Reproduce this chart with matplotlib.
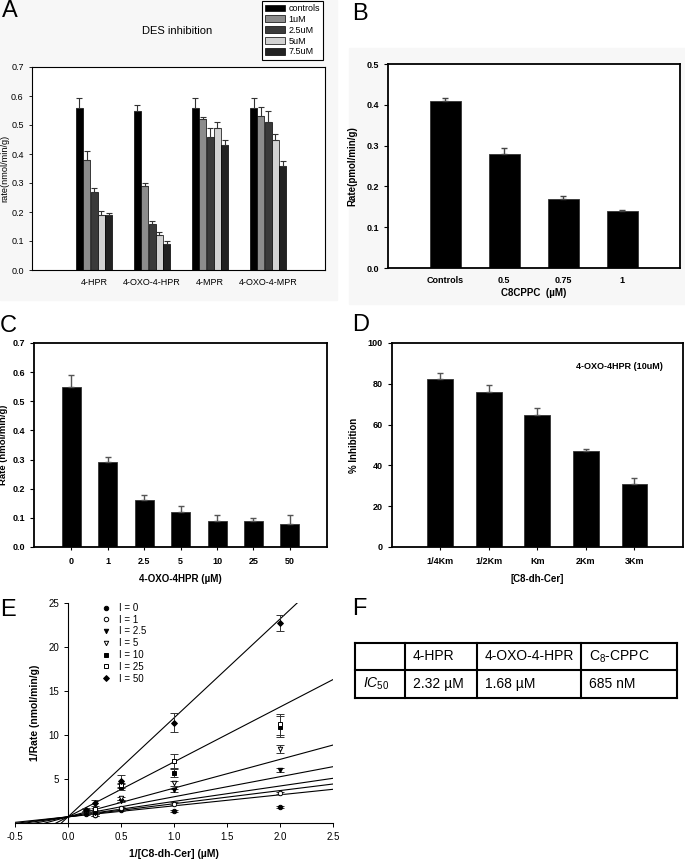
import matplotlib
matplotlib.use('Agg')
import matplotlib.pyplot as plt
import numpy as np
from matplotlib.patches import Rectangle

plt.rcParams['font.family'] = ['Liberation Sans', 'DejaVu Sans']
plt.rcParams['mathtext.fontset'] = 'custom'
plt.rcParams['mathtext.rm'] = 'Liberation Sans'
plt.rcParams['mathtext.it'] = 'Liberation Sans:italic'

# ---------------- data ----------------
# Panel A
a_groups = ['4-HPR', '4-OXO-4-HPR', '4-MPR', '4-OXO-4-MPR']
a_series = ['controls', '1uM', '2.5uM', '5uM', '7.5uM']
a_controls = [0.56, 0.55, 0.56, 0.56]
a_1uM = [0.38, 0.29, 0.52, 0.53]
a_2_5uM = [0.27, 0.16, 0.46, 0.51]
a_5uM = [0.19, 0.12, 0.49, 0.45]
a_7_5uM = [0.19, 0.09, 0.43, 0.36]
a_err_controls = [0.032, 0.02, 0.032, 0.032]
a_err_1uM = [0.032, 0.01, 0.007, 0.032]
a_err_2_5uM = [0.012, 0.01, 0.03, 0.04]
a_err_5uM = [0.015, 0.01, 0.02, 0.02]
a_err_7_5uM = [0.005, 0.01, 0.02, 0.016]

# Panel B
b_labels = ['Controls', '0.5', '0.75', '1']
b_values = [0.41, 0.28, 0.17, 0.14]
b_err = [0.006, 0.013, 0.006, 0.002]

# Panel C
c_labels = ['0', '1', '2.5', '5', '10', '25', '50']
c_values = [0.55, 0.29, 0.16, 0.12, 0.09, 0.09, 0.08]
c_err = [0.04, 0.02, 0.02, 0.02, 0.02, 0.01, 0.03]

# Panel D
d_labels = ['1/4Km', '1/2Km', 'Km', '2Km', '3Km']
d_values = [82.5, 76.0, 64.5, 47.0, 31.0]
d_err = [3.0, 3.5, 3.5, 1.0, 3.0]

# Panel E (Lineweaver-Burk)
e_x = [0.167, 0.25, 0.5, 1.0, 2.0]
e_I0 = [1.0, 0.9, 1.5, 1.36, 1.86]
e_I1 = [1.1, 0.95, 1.7, 2.2, 3.4]
e_I2_5 = [1.15, 1.1, 2.5, 3.7, 6.0]
e_I5 = [1.2, 1.2, 2.8, 4.5, 8.4]
e_I10 = [1.3, 1.3, 4.1, 5.7, 10.95]
e_I25 = [1.4, 1.6, 4.3, 7.0, 11.2]
e_I50 = [1.5, 2.3, 4.8, 11.4, 22.7]
e_err_I0 = [0.1, 0.1, 0.1, 0.1, 0.1]
e_err_I1 = [0.1, 0.1, 0.1, 0.15, 0.15]
e_err_I2_5 = [0.1, 0.1, 0.15, 0.2, 0.2]
e_err_I5 = [0.1, 0.1, 0.2, 0.25, 0.5]
e_err_I10 = [0.1, 0.1, 0.3, 0.45, 1.2]
e_err_I25 = [0.15, 0.1, 0.3, 0.8, 1.2]
e_err_I50 = [0.15, 0.35, 0.7, 1.1, 0.9]
e_fit_intercept = 0.7
e_fit_at_2_5 = [3.83, 4.43, 5.08, 6.4, 8.86, 16.3, 28.8]   # I = 0,1,2.5,5,10,25,50

# Panel F table
f_header = ['', '4-HPR', '4-OXO-4-HPR', r'C$_8$-CPPC']
f_row = [r'$\mathit{IC_{50}}$', '2.32 \u00b5M', '1.68 \u00b5M', '685 nM']

# ---------------- figure ----------------
W, H = 685, 861
fig = plt.figure(figsize=(W / 100, H / 100), dpi=100)

def fa(l, t, r, b):
    return [l / W, 1 - b / H, (r - l) / W, (b - t) / H]

# faint backgrounds for A and B
fig.patches.append(Rectangle((0, 1 - 300 / H), 337 / W, 300 / H, transform=fig.transFigure,
                             color='#f7f7f7', zorder=-5))
fig.patches.append(Rectangle((349 / W, 1 - 304 / H), (W - 349) / W, (304 - 48) / H,
                             transform=fig.transFigure, color='#f7f7f7', zorder=-5))

letter_kw = dict(fontsize=17, ha='left', va='top')
fig.text(2 / W, 1 - 0 / H, 'A', **letter_kw)
fig.text(352 / W, 1 - 3 / H, 'B', **letter_kw)
fig.text(0 / W, 1 - 315 / H, 'C', **letter_kw)
fig.text(352 / W, 1 - 314 / H, 'D', **letter_kw)
fig.text(0 / W, 1 - 599 / H, 'E', **letter_kw)
fig.text(352 / W, 1 - 598 / H, 'F', **letter_kw)

# ---------------- Panel A ----------------
axA = fig.add_axes(fa(32, 67, 325, 270))
axA.set_facecolor('white')
a_vals = [a_controls, a_1uM, a_2_5uM, a_5uM, a_7_5uM]
a_errs = [a_err_controls, a_err_1uM, a_err_2_5uM, a_err_5uM, a_err_7_5uM]
a_colors = ['#000000', '#8c8c8c', '#3a3a3a', '#d2d2d2', '#222222']
xg = np.arange(len(a_groups))
bw = 0.118
handles = []
for i, (v, e, c, name) in enumerate(zip(a_vals, a_errs, a_colors, a_series)):
    pos = xg + (i - 2) * 0.126
    h = axA.bar(pos, v, width=bw, color=c, edgecolor='black', linewidth=0.5, label=name, zorder=2)
    axA.errorbar(pos, v, yerr=[np.zeros(len(e)), e], fmt='none', ecolor='#333333',
                 elinewidth=0.8, capsize=2, capthick=0.8, zorder=3)
    handles.append(h)
axA.set_xlim(-1.07, 3.98)
axA.set_ylim(0, 0.7)
axA.set_yticks(np.arange(0, 0.71, 0.1))
axA.set_yticklabels(['%.1f' % t for t in np.arange(0, 0.71, 0.1)])
axA.set_xticks(xg)
axA.set_xticklabels(a_groups)
axA.tick_params(axis='both', labelsize=6.5, direction='out', length=2.5, width=0.6)
axA.tick_params(axis='x', length=0, pad=6)
axA.set_ylabel('rate(nmol/min/g)', fontsize=6.6)
axA.yaxis.set_label_coords(-0.078, 0.5)
for s in axA.spines.values():
    s.set_linewidth(0.8)
fig.text(177 / W, 1 - 31 / H, 'DES inhibition', fontsize=8, ha='center', va='center')
leg = fig.legend(handles=handles, loc='upper left', bbox_to_anchor=(262 / W, 1 - 1 / H),
                 fontsize=6.5, frameon=True, fancybox=False, edgecolor='black',
                 framealpha=1, handlelength=2.2, handleheight=0.8, handletextpad=0.4,
                 labelspacing=0.2, borderpad=0.35, borderaxespad=0)
leg.get_frame().set_linewidth(0.8)

# ---------------- Panel B ----------------
axB = fig.add_axes(fa(388, 64, 680, 268))
xb = np.arange(len(b_labels))
axB.bar(xb, b_values, width=0.53, color='black', edgecolor='#333333', linewidth=0.6, zorder=2)
axB.errorbar(xb, b_values, yerr=[np.zeros(len(b_err)), b_err], fmt='none', ecolor='#444444',
             elinewidth=1, capsize=2.5, capthick=1, zorder=3)
axB.set_xlim(-0.97, 3.98)
axB.set_ylim(0, 0.5)
axB.set_yticks(np.arange(0, 0.51, 0.1))
axB.set_yticklabels(['%.1f' % t for t in np.arange(0, 0.51, 0.1)])
axB.set_xticks(xb)
axB.set_xticklabels(b_labels)
axB.tick_params(axis='both', labelsize=6.5, direction='out', length=3, width=0.8)
axB.tick_params(axis='x', length=0, pad=6)
for lab in axB.get_xticklabels() + axB.get_yticklabels():
    lab.set_fontweight('bold')
axB.set_ylabel('Rate(pmol/min/g)', fontsize=7, fontweight='bold')
axB.yaxis.set_label_coords(-0.105, 0.5)
axB.set_xlabel('C8CPPC  (\u00b5M)', fontsize=7, fontweight='bold', labelpad=2)
for s in axB.spines.values():
    s.set_linewidth(1.3)

# ---------------- Panel C ----------------
axC = fig.add_axes(fa(34, 343, 327, 547))
xc = np.arange(len(c_labels))
axC.bar(xc, c_values, width=0.52, color='black', edgecolor='#333333', linewidth=0.6, zorder=2)
axC.errorbar(xc, c_values, yerr=[np.zeros(len(c_err)), c_err], fmt='none', ecolor='#555555',
             elinewidth=1, capsize=2.5, capthick=1, zorder=3)
axC.set_xlim(-1.03, 7.02)
axC.set_ylim(0, 0.7)
axC.set_yticks(np.arange(0, 0.71, 0.1))
axC.set_yticklabels(['%.1f' % t for t in np.arange(0, 0.71, 0.1)])
axC.set_xticks(xc)
axC.set_xticklabels(c_labels)
axC.tick_params(axis='both', labelsize=6.5, direction='out', length=3, width=0.8)
axC.tick_params(axis='x', length=2, pad=5)
for lab in axC.get_xticklabels() + axC.get_yticklabels():
    lab.set_fontweight('bold')
axC.set_ylabel('Rate (nmol/min/g)', fontsize=6.8, fontweight='bold')
axC.yaxis.set_label_coords(-0.088, 0.5)
axC.set_xlabel('4-OXO-4HPR (\u00b5M)', fontsize=7, fontweight='bold', labelpad=6)
for s in axC.spines.values():
    s.set_linewidth(1.3)

# ---------------- Panel D ----------------
axD = fig.add_axes(fa(392, 343, 683, 547))
xd = np.arange(len(d_labels))
axD.bar(xd, d_values, width=0.53, color='black', edgecolor='#333333', linewidth=0.6, zorder=2)
axD.errorbar(xd, d_values, yerr=[np.zeros(len(d_err)), d_err], fmt='none', ecolor='#555555',
             elinewidth=1, capsize=2.5, capthick=1, zorder=3)
axD.set_xlim(-0.99, 5.0)
axD.set_ylim(0, 100)
axD.set_yticks(np.arange(0, 101, 20))
axD.set_xticks(xd)
axD.set_xticklabels(d_labels)
axD.tick_params(axis='both', labelsize=6.5, direction='out', length=3, width=0.8)
axD.tick_params(axis='x', length=2, pad=5)
for lab in axD.get_xticklabels() + axD.get_yticklabels():
    lab.set_fontweight('bold')
axD.set_ylabel('% Inhibition', fontsize=7, fontweight='bold')
axD.yaxis.set_label_coords(-0.115, 0.5)
axD.set_xlabel('[C8-dh-Cer]', fontsize=7, fontweight='bold', labelpad=6)
axD.text(0.78, 0.885, '4-OXO-4HPR (10uM)', transform=axD.transAxes, fontsize=6.5,
         fontweight='bold', ha='center', va='center')
for s in axD.spines.values():
    s.set_linewidth(1.3)

# ---------------- Panel E ----------------
axE = fig.add_axes(fa(15, 603, 333, 823))
e_series = [e_I0, e_I1, e_I2_5, e_I5, e_I10, e_I25, e_I50]
e_errs = [e_err_I0, e_err_I1, e_err_I2_5, e_err_I5, e_err_I10, e_err_I25, e_err_I50]
e_names = ['I = 0', 'I = 1', 'I = 2.5', 'I = 5', 'I = 10', 'I = 25', 'I = 50']
e_markers = [('o', 'black'), ('o', 'white'), ('v', 'black'), ('v', 'white'),
             ('s', 'black'), ('s', 'white'), ('D', 'black')]
xl = np.array([-0.5, 2.5])
for yend in e_fit_at_2_5:
    slope = (yend - e_fit_intercept) / 2.5
    axE.plot(xl, e_fit_intercept + slope * xl, color='black', lw=0.8, zorder=2)
e_handles = []
for ys, es, name, (mk, fc) in zip(e_series, e_errs, e_names, e_markers):
    ms = 3.2 if mk != 'D' else 3.0
    h = axE.errorbar(e_x, ys, yerr=es, fmt=mk, ms=ms, mfc=fc, mec='black', mew=0.7,
                     ecolor='#333333', elinewidth=0.7, capsize=3, capthick=0.7, label=name, zorder=3)
    e_handles.append(h)
axE.set_xlim(-0.5, 2.5)
axE.set_ylim(0, 25)
axE.spines['left'].set_position(('data', 0))
axE.spines['top'].set_visible(False)
axE.spines['right'].set_visible(False)
axE.set_xticks(np.arange(-0.5, 2.51, 0.5))
axE.set_xticklabels(['%.1f' % t for t in np.arange(-0.5, 2.51, 0.5)])
axE.set_yticks([5, 10, 15, 20, 25])
axE.tick_params(axis='both', labelsize=7, direction='out', length=3, width=0.7)
axE.set_xlabel('1/[C8-dh-Cer] (\u00b5M)', fontsize=7.5, fontweight='bold', labelpad=5)
axE.set_ylabel('1/Rate (nmol/min/g)', fontsize=7.5, fontweight='bold')
axE.yaxis.set_label_coords(0.078, 0.5)
axE.legend(handles=[h[0] for h in e_handles], labels=e_names, loc='upper left',
           bbox_to_anchor=(0.27, 1.0), frameon=False, fontsize=7, handlelength=1.0,
           handletextpad=0.9, labelspacing=0.18, borderpad=0, borderaxespad=0)

# ---------------- Panel F (table) ----------------
axF = fig.add_axes(fa(355, 643, 677, 698))
axF.set_xlim(0, 322)
axF.set_ylim(55, 0)
axF.axis('off')
col_edges = [0, 50, 122, 226, 322]
row_edges = [0, 27, 55]
for xe in col_edges:
    axF.plot([xe, xe], [0, 55], color='black', lw=1.5, clip_on=False, solid_capstyle='projecting')
for ye in row_edges:
    axF.plot([0, 322], [ye, ye], color='black', lw=1.5, clip_on=False, solid_capstyle='projecting')
for j, txt in enumerate(f_header):
    axF.text(col_edges[j] + 8, 13.5, txt, fontsize=10, ha='left', va='center')
for j, txt in enumerate(f_row):
    axF.text(col_edges[j] + 8, 41, txt, fontsize=10, ha='left', va='center')

fig.savefig('out.png', dpi=100)
